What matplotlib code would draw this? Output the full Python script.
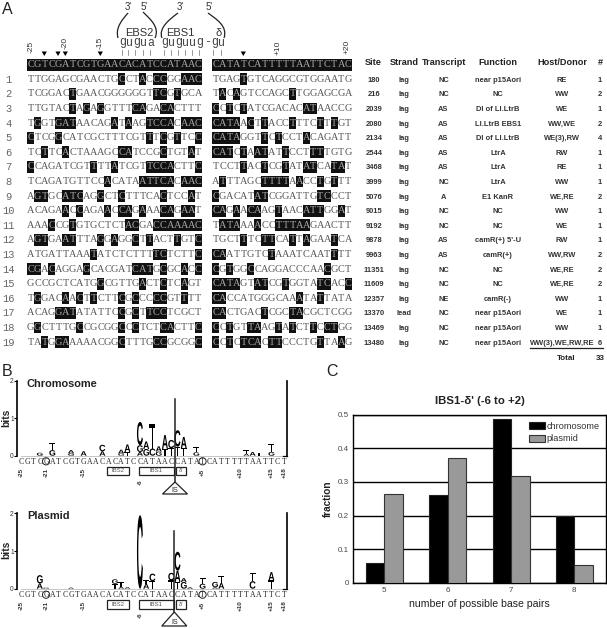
import matplotlib
matplotlib.use('Agg')
import matplotlib.pyplot as plt
from matplotlib.font_manager import FontProperties
from matplotlib.patches import PathPatch, Rectangle, Polygon, Circle
from matplotlib.path import Path
from matplotlib.textpath import TextPath
from matplotlib.transforms import Affine2D

plt.rcParams['font.family'] = 'Liberation Sans'

W, H = 607, 628
MONO = 'Liberation Mono'
SERIF = 'Liberation Serif'

# ------------------------------------------------------------------
# Panel A data (lower case = highlighted base)
# ------------------------------------------------------------------
header_left = 'CGTCGATCGTGAACACATCCATAAC'
header_right = 'CATATCATTTTTAATTCTAC'

seq_left = [
    'TTGGAGCGAACTGcCTaCccGGaac', 'TCGGACtGAACGGGGGGTtcGtGCA',
    'TTGTACtAgAgGTTTcaGAcaCTTT', 'TgGTgatAACAGaTaAGtccaCaac',
    'cTCGgCATCGCTTTCGTtTcGtTCc', 'TCtTCaCTAAAGCcaTCCGcTGTaT',
    'cCAGATCGTtTTaTCGTtccaCTTc', 'TCAGATGTTCCaCATAattcaCaac',
    'AgtGCatcAGgCTcTTTCAcTCCaT', 'ACAGAaCcAGAaCcaGaAAcaGaaT',
    'AAAcCGtGTGCTCTacGAccaaaac', 'AgtGAatTTAgGaGGcTtACTtGTc',
    'ATGATTAAAtATCTCTTTtcTCTTc', 'cgAcAGGAgCACGATcatGcGCaCc',
    'GCCGCTCATGgCGTTGaCTcTCaGT', 'TgGACaAcTtCTTcGcCCccGTtTT',
    'ACAGgatATATTCcGcTtccTCGCT', 'GgCTTTGcCGCGGcCcTCTcaCTTc',
    'TAtGgaAAAACGGcTTTGccGCGGc',
]
seq_right = [
    'TGAGtGTCAGGCGTGGAATG', 'TaCaGTCCAGCtTGGAGCGA', 'cCtCtATCGACACatAACCG',
    'cataAcTtACCtTTCtTtGT', 'cataGGTtCtCCTaCAGATT', 'catCtAatATtCCTttTGTG',
    'TCCTtACtCGtATatCAtaT', 'AtTTAGCttttAaCCtGtTT', 'cGACATatCGGATTGtcCCT',
    'caGaAcaAGtAACattGGaT', 'TataAAaCCtttaaGAACTT', 'TGCTtTCttCAtTaGAAtCA',
    'caATTGTCtAAATCAATtTT', 'cGtGGcCAGGACCCAAcGCT', 'cataGTatCGtGGTAtcACc',
    'caCCATGGGCAAaTAtTATA', 'caCTGACtCGCtaCGCTCGG', 'cCtGTtaAGtAtCTtCctGG',
    'cCtCtcaCttCCCTGtTAaG',
]

table_head = ['Site', 'Strand', 'Transcript', 'Function', 'Host/Donor', '#']
sites = ['180', '216', '2039', '2080', '2134', '2544', '3468', '3999', '5076', '9015',
         '9192', '9878', '9963', '11351', '11609', '12357', '13370', '13469', '13480']
strands = ['lag'] * 19
strands[16] = 'lead'
transcripts = ['NC', 'NC', 'AS', 'AS', 'AS', 'AS', 'AS', 'NC', 'A', 'NC',
               'NC', 'AS', 'AS', 'NC', 'NC', 'NE', 'NC', 'NC', 'NC']
functions = ['near p15Aori', 'NC', 'DI of Ll.LtrB', 'Ll.LtrB EBS1', 'DI of Ll.LtrB', 'LtrA',
             'LtrA', 'LtrA', 'E1 KanR', 'NC', 'NC', 'camR(+) 5\'-U', 'camR(+)', 'NC', 'NC',
             'camR(-)', 'near p15Aori', 'near p15Aori', 'near p15Aori']
hosts = ['RE', 'WW', 'WE', 'WW,WE', 'WE(3),RW', 'RW', 'RE', 'WW', 'WE,RE', 'WW', 'WE', 'RW',
         'WW,RW', 'WE,RE', 'WE,RE', 'WW', 'WE', 'WW', 'WW(3),WE,RW,RE']
counts = [1, 2, 1, 2, 4, 1, 1, 1, 2, 1, 1, 1, 2, 2, 2, 1, 1, 1, 6]

# ------------------------------------------------------------------
# Panel B data: position -> stack of (letter, bits), bottom to top
# ------------------------------------------------------------------
logo_seq = 'CGTCGATCGTGAACACATCCATAACCATATCATTTTTAATTCT'

chrom_stacks = {
    3: [('G', 0.08)], 5: [('G', 0.15), ('T', 0.2)], 8: [('G', 0.07), ('A', 0.08)],
    10: [('A', 0.12)], 13: [('A', 0.12), ('C', 0.17)], 16: [('G', 0.06), ('A', 0.1)],
    17: [('T', 0.1), ('A', 0.2)], 19: [('A', 0.1), ('G', 0.18), ('C', 0.62)],
    20: [('G', 0.18), ('A', 0.2)], 21: [('C', 0.19), ('T', 0.65)],
    22: [('G', 0.11), ('A', 0.14)], 23: [('T', 0.18), ('A', 0.37)],
    24: [('T', 0.2), ('C', 0.22)], 25: [('T', 0.24), ('C', 0.44)],
    26: [('T', 0.2), ('A', 0.3)], 28: [('G', 0.09), ('T', 0.13)],
    36: [('A', 0.05), ('T', 0.1)], 37: [('A', 0.1)], 38: [('T', 0.08)],
    40: [('G', 0.1), ('T', 0.22)],
}
plasmid_stacks = {
    3: [('A', 0.14), ('G', 0.22)], 4: [('G', 0.03)], 8: [('A', 0.03)],
    15: [('T', 0.13), ('G', 0.12)], 16: [('A', 0.05), ('T', 0.12)], 17: [('A', 0.04)],
    19: [('C', 1.95)], 20: [('A', 0.13), ('T', 0.1)], 21: [('T', 0.2), ('C', 0.2)],
    24: [('T', 0.22), ('C', 0.2)], 25: [('T', 0.18), ('A', 0.3), ('C', 0.5)],
    26: [('G', 0.18), ('A', 0.1)], 27: [('A', 0.04)], 29: [('G', 0.13), ('T', 0.16)],
    31: [('A', 0.04), ('G', 0.14)], 32: [('A', 0.15), ('T', 0.18)],
    37: [('C', 0.2), ('T', 0.22)], 40: [('T', 0.22), ('A', 0.22)],
}
logo_ticks = ['-25', '-21', '-15', '-6', '+5', '+10', '+15', '+18']
logo_tick_pos = [0, 4, 10, 19, 29, 35, 40, 42]

# ------------------------------------------------------------------
# Panel C data
# ------------------------------------------------------------------
pairs = [5, 6, 7, 8]
chromosome = [0.06, 0.26, 0.488, 0.2]
plasmid = [0.264, 0.37, 0.318, 0.054]

fig = plt.figure(figsize=(W / 100, H / 100), dpi=100)
fig.patch.set_facecolor('white')


def px_axes(left, top, right, bottom):
    return fig.add_axes([left / W, 1 - bottom / H, (right - left) / W, (bottom - top) / H])


# ------------------------------------------------------------------
# Panel C: grouped bars
# ------------------------------------------------------------------
axc = px_axes(353.3, 414.7, 605.7, 582.7)
bw = 0.292
axc.bar([p - bw / 2 for p in pairs], chromosome, bw, color='black', edgecolor='#222222',
        linewidth=0.8, zorder=3, label='chromosome')
axc.bar([p + bw / 2 for p in pairs], plasmid, bw, color='#999999', edgecolor='#333333',
        linewidth=0.8, zorder=3, label='plasmid')
axc.set_xlim(4.51, 8.495)
axc.set_ylim(0, 0.5)
axc.set_xticks(pairs)
axc.set_yticks([0, 0.1, 0.2, 0.3, 0.4, 0.5])
axc.set_yticklabels(['0', '0.1', '0.2', '0.3', '0.4', '0.5'])
axc.tick_params(length=0, labelsize=5.8, labelcolor='#444444', pad=3)
axc.grid(axis='y', color='black', linewidth=1.0, zorder=1)
for s in axc.spines.values():
    s.set_linewidth(1.0)
axc.set_xlabel('number of possible base pairs', fontsize=7.6, color='#222222', labelpad=3.5)
axc.set_ylabel('fraction', fontsize=7.2, fontweight='bold', color='#222222', labelpad=3.5)
axc.set_title("IBS1-\u03b4' (-6 to +2)", fontsize=8.2, fontweight='bold', color='#222222', pad=8)
axc.legend(loc='upper left', bbox_to_anchor=(0.696, 0.958), frameon=False, fontsize=6.6,
           handlelength=1.75, handleheight=0.84, handletextpad=0.2, labelspacing=0.4,
           borderpad=0, borderaxespad=0, labelcolor='#333333')

# ------------------------------------------------------------------
# Panel B: sequence logos
# ------------------------------------------------------------------
logo_font = FontProperties(family='Liberation Sans', weight='bold')


def draw_logo(top, bottom, stacks, title):
    ax = px_axes(17.3, top, 287.3, bottom)
    ax.set_xlim(-0.59, 42.54)
    ax.set_ylim(0, 2)
    ax.patch.set_alpha(0)
    for name in ['top', 'bottom']:
        ax.spines[name].set_visible(False)
    for name in ['left', 'right']:
        ax.spines[name].set_linewidth(1.2)
    ax.set_xticks([])
    ax.set_yticks([0, 1, 2])
    ax.tick_params(axis='y', length=2, width=0.8, labelsize=4.8, pad=0.5, labelcolor='#333333')
    ax.plot([0, 42], [0, 0], color='#bbbbbb', linewidth=0.6, clip_on=False, zorder=1)
    ax.plot([41.9, 42.54], [0, 0], color='black', linewidth=0.9, clip_on=False)

    for pos, stack in stacks.items():
        y = 0
        for letter, bits in stack:
            tp = TextPath((0, 0), letter, size=1, prop=logo_font)
            bb = tp.get_extents()
            tr = (Affine2D().translate(-bb.x0, -bb.y0)
                  .scale(0.95 / bb.width, bits / bb.height)
                  .translate(pos - 0.475, y))
            ax.add_patch(PathPatch(tp, transform=tr + ax.transData, facecolor='black',
                                   edgecolor='none', clip_on=False, zorder=3))
            y += bits

    # reference sequence under the logo
    for i, ch in enumerate(logo_seq):
        ax.text(i, -0.155, ch, family=SERIF, fontsize=5.6, color='#222222',
                ha='center', va='center', clip_on=False)
    ax.text(0.035, 0.96, title, transform=ax.transAxes, fontsize=7.9, fontweight='bold',
            color='#222222', va='center', ha='left')
    return ax


draw_logo(380.7, 455.7, chrom_stacks, 'Chromosome')
draw_logo(513.3, 588.7, plasmid_stacks, 'Plasmid')

# ------------------------------------------------------------------
# Overlay in pixel coordinates: panel A and annotations
# ------------------------------------------------------------------
ov = fig.add_axes([0, 0, 1, 1])
ov.set_xlim(0, W)
ov.set_ylim(H, 0)
ov.axis('off')

for label, x, y in [('A', 2, 14), ('B', 2, 376), ('C', 326, 376)]:
    ov.text(x, y, label, fontsize=11.5, color='#222222', va='baseline', ha='left')

for y in [418, 550]:
    ov.text(6.5, y, 'bits', fontsize=7.4, fontweight='bold', rotation=90, color='#222222',
            ha='center', va='center')

# sequence alignment
row_y = [79.3 + 14.6 * i for i in range(19)]
LX0, LW = 27.3, 6.98
RX0, RW = 212.3, 6.97


def draw_seq(seq, x0, cw, y, all_dark=False):
    for i, ch in enumerate(seq):
        dark = all_dark or ch.islower()
        if dark:
            ov.add_patch(Rectangle((x0 + i * cw, y - 5.9), cw, 11.8, facecolor='#111111',
                                   edgecolor='none', zorder=2))
        ov.text(x0 + (i + 0.5) * cw, y, ch.upper(), family=SERIF, fontsize=7.4,
                color='#aaaaaa' if dark else '#555555', ha='center', va='center', zorder=3)


draw_seq(header_left, LX0, LW, 64.7, all_dark=True)
draw_seq(header_right, RX0, RW, 64.7, all_dark=True)
for i in range(19):
    draw_seq(seq_left[i], LX0, LW, row_y[i])
    draw_seq(seq_right[i], RX0, RW, row_y[i])
    ov.text(8.5, row_y[i] + 0.5, str(i + 1), family=MONO, fontsize=7.5, color='#666666',
            ha='center', va='center')

# position labels and cut-site arrowheads above the alignment
for txt, x, y in [('-25', 30.7, 47), ('-20', 65, 42.5), ('-15', 100, 42.5),
                  ('+10', 278, 48), ('+20', 347, 47)]:
    ov.text(x, y, txt, fontsize=6, rotation=90, color='#333333', ha='center', va='center')
for x in [44.3, 58, 65.3, 100.3, 243.3]:
    ov.add_patch(Polygon([(x - 2.6, 51.5), (x + 2.6, 51.5), (x, 56)], facecolor='black',
                         edgecolor='none'))

# EBS / delta pairing lines
for txt, x in [("3'", 128.5), ("5'", 144), ("3'", 180), ("5'", 209)]:
    ov.text(x, 7, txt, fontsize=7, color='#333333', ha='center', va='center')
for txt, x in [('EBS2', 139.5), ('EBS1', 180.5), ('\u03b4', 218.5)]:
    ov.text(x, 32.5, txt, fontsize=8, color='#333333', ha='center', va='center')
for seq, x0 in [('gugua', 119), ('guguug-gu', 161)]:
    for i, ch in enumerate(seq):
        ov.text(x0 + (i + 0.5) * 7.1, 42.5, ch, family=MONO, fontsize=8.4, color='#444444',
                ha='center', va='center')
for x in [121.7, 128.3, 135, 142.7, 150, 163.7, 170.7, 177.7, 185.3, 192, 199.3, 213.3, 220.7]:
    ov.plot([x, x], [50, 55], color='#888888', linewidth=0.6)
for pts in [[(128, 13), (123, 19), (115, 27), (118, 38)],
            [(143, 12), (150, 19), (160, 27), (155, 38)],
            [(178, 13), (170, 19), (158, 28), (162, 38)],
            [(208, 13), (216, 19), (228, 26), (224, 38)]]:
    ov.add_patch(PathPatch(Path(pts, [Path.MOVETO, Path.CURVE4, Path.CURVE4, Path.CURVE4]),
                           facecolor='none', edgecolor='#222222', linewidth=0.9))

# table
col_x = [374, 404, 443.5, 498, 562, 600]
head_x = [373.7, 404, 444.3, 498, 562.3, 600]
for txt, x in zip(table_head, head_x):
    ov.text(x, 62.7, txt, fontsize=6.6, fontweight='bold', color='#222222', ha='center', va='center')
for i in range(19):
    y = row_y[i] + 1
    for col, x in zip([sites, strands, transcripts, functions, hosts, counts], col_x):
        ov.text(x, y, str(col[i]), fontsize=5.4, fontweight='bold', color='#333333',
                ha='center', va='center')
ov.plot([530, 602.7], [348.3, 348.3], color='#222222', linewidth=0.9)
ov.text(566, 358, 'Total', fontsize=5.8, fontweight='bold', color='#222222', ha='center', va='center')
ov.text(600, 358, '33', fontsize=5.8, fontweight='bold', color='#222222', ha='center', va='center')

# logo annotations: IBS boxes, tick labels, circles, IS triangle
logo_x = [21 + 6.26 * i for i in range(43)]


def logo_marks(seq_y, box_top, box_bot, line_top, tri_top, tri_bot, line_x):
    for txt, x0, x1 in [('IBS2', 106.7, 129), ('IBS1', 138.5, 173.7), ('\u03b4\'', 175.7, 186)]:
        ov.add_patch(Rectangle((x0, box_top), x1 - x0, box_bot - box_top, facecolor='white',
                               edgecolor='#222222', linewidth=0.9))
        ov.text((x0 + x1) / 2, (box_top + box_bot) / 2, txt, fontsize=4.3, color='#555555',
                ha='center', va='center')
    for txt, pos in zip(logo_ticks, logo_tick_pos):
        y = box_top + (15 if txt == '-6' else 5.5)
        ov.text(logo_x[pos], y, txt, fontsize=4.5, rotation=90, color='#333333', fontweight='bold',
                ha='center', va='center')
    for pos in [4, 29]:
        ov.add_patch(Circle((logo_x[pos], seq_y), 3.6, facecolor='none', edgecolor='#222222',
                            linewidth=0.7))
    ov.plot([line_x, line_x], [line_top, tri_top], color='#222222', linewidth=1.1)
    ov.add_patch(Polygon([(line_x, tri_top), (line_x - 12.5, tri_bot), (line_x + 12.5, tri_bot)],
                         facecolor='white', edgecolor='#222222', linewidth=0.9))
    ov.text(line_x, tri_bot - 3.8, 'IS', fontsize=5.2, color='#222222', ha='center', va='center')


logo_marks(461.3, 466.7, 475, 399, 482, 494, 175)
logo_marks(594.7, 600, 608.7, 531, 612, 626, 174.3)

plt.savefig('out.png', dpi=100)
